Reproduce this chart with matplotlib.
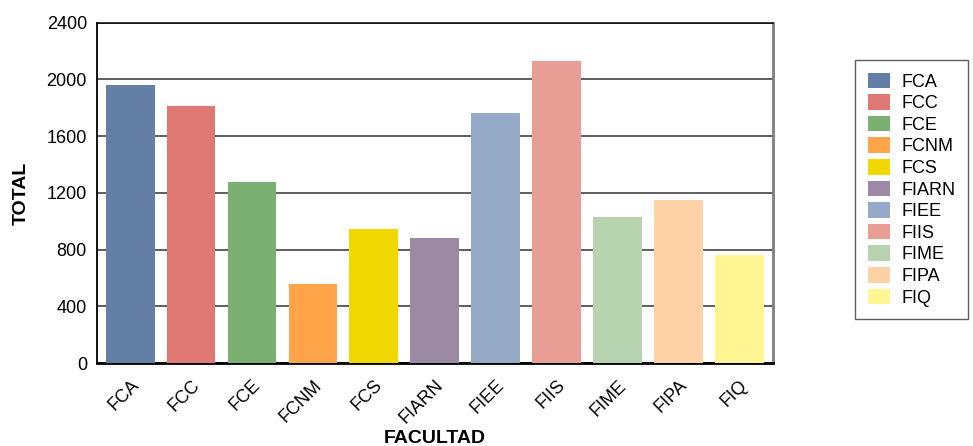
import matplotlib.pyplot as plt
from matplotlib.patches import Patch

plt.rcParams['font.family'] = ['Liberation Sans', 'DejaVu Sans']

facultades = ['FCA', 'FCC', 'FCE', 'FCNM', 'FCS', 'FIARN', 'FIEE', 'FIIS', 'FIME', 'FIPA', 'FIQ']
totales = [1960, 1811, 1275, 555, 943, 880, 1762, 2129, 1028, 1148, 760]
colores = ['#647fa6', '#e07974', '#7bb072', '#ffa449', '#f0d800', '#9c89a4',
           '#95aac7', '#e89e95', '#b7d3af', '#ffd2a5', '#fff693']
y_ticks = [0, 400, 800, 1200, 1600, 2000, 2400]

fig = plt.figure(figsize=(9.73, 4.46), dpi=100)
ax = fig.add_axes([0.0994, 0.186, 0.6947, 0.763])

pos = list(range(len(facultades)))
ax.bar(pos, totales, width=0.8, color=colores, zorder=3)

ax.set_ylim(0, 2400)
ax.set_xlim(-0.55, len(facultades) - 0.45)
ax.set_yticks(y_ticks)
ax.set_yticklabels([str(v) for v in y_ticks], fontsize=13)
ax.set_xticks(pos)
ax.set_xticklabels(facultades, fontsize=13, rotation=45, ha='right',
                   rotation_mode='anchor')
ax.tick_params(axis='both', length=0, pad=7)
ax.tick_params(axis='x', pad=10)

ax.yaxis.grid(True, color='#333333', linewidth=1.1, zorder=0)
ax.set_axisbelow(True)

ax.spines['left'].set_color('black')
ax.spines['left'].set_linewidth(1.3)
ax.spines['bottom'].set_color('black')
ax.spines['bottom'].set_linewidth(2)
ax.spines['top'].set_color('black')
ax.spines['top'].set_linewidth(1.1)
ax.spines['right'].set_color('#808080')
ax.spines['right'].set_linewidth(2)

ax.set_ylabel('TOTAL', fontsize=14, fontweight='bold', labelpad=12)
ax.set_xlabel('FACULTAD', fontsize=14, fontweight='bold', labelpad=2)

handles = [Patch(facecolor=c, edgecolor='none') for c in colores]
leg = fig.legend(handles, facultades, loc='upper left',
                 bbox_to_anchor=(855 / 973, 1 - 60 / 446), fontsize=13,
                 frameon=True, fancybox=False, edgecolor='#333333',
                 handlelength=1.25, handleheight=0.95, labelspacing=0.2,
                 borderpad=0.7, handletextpad=0.6, borderaxespad=0)
leg.get_frame().set_linewidth(1)

fig.savefig('out.png', dpi=100)
